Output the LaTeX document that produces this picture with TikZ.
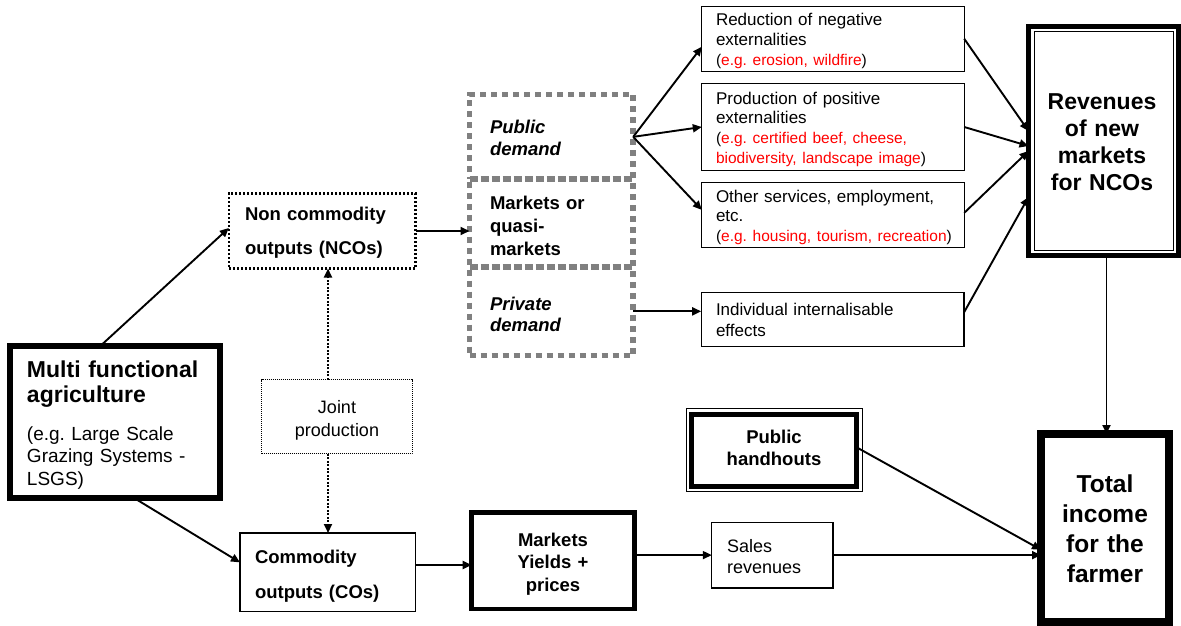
\documentclass[tikz,border=0pt]{standalone}
\usepackage{fontspec}
\setmainfont{Liberation Sans}
\usetikzlibrary{arrows.meta}
\definecolor{exred}{RGB}{255,0,0}
\definecolor{dashgray}{RGB}{128,128,128}
\newcommand{\fsz}[2]{\fontsize{#1}{#2}\selectfont}
\frenchspacing

\begin{document}
\begin{tikzpicture}[x=1pt,y=-1pt,
  frame/.style={draw, inner sep=0pt, outer sep=0pt},
  thinbox/.style={frame, line width=1.3pt},
  txt/.style={inner sep=0pt, outer sep=0pt, anchor=base west, align=left},
  ctxt/.style={inner sep=0pt, outer sep=0pt, anchor=base, align=center},
  conn/.style={line width=1.9pt, -{Triangle[length=9pt,width=8pt]}},
  dotconn/.style={line width=2.2pt, dash pattern=on 2pt off 1.5pt, -{Triangle[length=9pt,width=8pt]}},
  gdash/.style={draw=dashgray, line width=5.8pt, dash pattern=on 6pt off 5pt, inner sep=0pt, outer sep=0pt},
]
\useasboundingbox (0,0) rectangle (1181,626);

% ---------- left part ----------
\node[frame, line width=6pt, minimum width=209.8pt, minimum height=152pt] (mfa) at (114.6,422.3) {};
\node[txt, text width=190pt, font=\fsz{23}{25}\bfseries] (mfa-t) at (27,377) {Multi functional\\agriculture};
\node[txt, text width=190pt, font=\fsz{19}{22.5}] (mfa-s) at (27,440) {(e.g. Large Scale\\Grazing Systems -\\LSGS)};

\node[frame, line width=2.3pt, dash pattern=on 2pt off 2pt, minimum width=186.7pt, minimum height=75pt] (nco) at (322.15,231) {};
\node[txt, text width=170pt, font=\fsz{18.5}{34}\bfseries] (nco-t) at (245,220) {Non commodity\\outputs (NCOs)};

\node[frame, line width=0.9pt, dash pattern=on 1pt off 1pt, minimum width=150.4pt, minimum height=74pt] (jp) at (336.8,416.8) {};
\node[ctxt, text width=140pt, font=\fsz{18}{23}] (jp-t) at (337,413) {Joint\\production};

\node[thinbox, minimum width=175.8pt, minimum height=78.8pt] (cos) at (327.9,572.4) {};
\node[txt, text width=160pt, font=\fsz{18.5}{35}\bfseries] (cos-t) at (255,563) {Commodity\\outputs (COs)};

\node[frame, line width=4.6pt, minimum width=162.8pt, minimum height=96.7pt] (myp) at (553.1,560.65) {};
\node[ctxt, text width=150pt, font=\fsz{18.5}{22.5}\bfseries] (myp-t) at (553,546) {Markets\\Yields +\\prices};

% ---------- demand column ----------
\node[gdash, minimum width=163.7pt, minimum height=84.7pt] (pubd) at (551.35,136.85) {};
\node[gdash, minimum width=163.7pt, minimum height=88pt] (mktq) at (551.35,223.2) {};
\node[gdash, minimum width=163.7pt, minimum height=88.3pt] (privd) at (551.35,311.35) {};
\node[txt, text width=130pt, font=\fsz{18.5}{22}\bfseries\itshape] (pubd-t) at (490,133) {Public\\demand};
\node[txt, text width=130pt, font=\fsz{18.5}{23}\bfseries] (mktq-t) at (490,209) {Markets or\\quasi-\\markets};
\node[txt, text width=130pt, font=\fsz{18.5}{21}\bfseries\itshape] (privd-t) at (490,310) {Private\\demand};

% ---------- externality boxes ----------
\node[thinbox, minimum width=262.4pt, minimum height=65.1pt] (red1) at (833,38.75) {};
\node[txt, text width=245pt, font=\fsz{17}{20}] (red1-t) at (716,26) {Reduction of negative\\externalities\\{\fsz{15.5}{19}(\textcolor{exred}{e.g. erosion, wildfire})}};

\node[thinbox, minimum width=262.4pt, minimum height=87.4pt] (prod) at (833,127) {};
\node[txt, text width=245pt, font=\fsz{17}{19.7}] (prod-t) at (716,104) {Production of positive\\externalities\\{\fsz{15.5}{19}(\textcolor{exred}{e.g. certified beef, cheese,}}\\{\fsz{15.5}{19}\textcolor{exred}{biodiversity, landscape image})}};

\node[thinbox, minimum width=262.4pt, minimum height=65.2pt] (oth) at (833,214.9) {};
\node[txt, text width=245pt, font=\fsz{17}{19.7}] (oth-t) at (716,202) {Other services, employment,\\etc.\\{\fsz{15.5}{19}(\textcolor{exred}{e.g. housing, tourism, recreation})}};

\node[thinbox, minimum width=262.8pt, minimum height=54.5pt] (indiv) at (832.6,319.45) {};
\node[txt, text width=245pt, font=\fsz{17}{21}] (indiv-t) at (716,315) {Individual internalisable\\effects};

% ---------- revenues ----------
\node[frame, line width=5pt, minimum width=150pt, minimum height=229pt] (rev) at (1103.5,141) {};
\node[frame, line width=1pt, minimum width=139pt, minimum height=218pt] (revin) at (1103.5,141) {};
\node[ctxt, text width=140pt, font=\fsz{23}{27}\bfseries] (rev-t) at (1102,110) {Revenues\\of new\\markets\\for NCOs};

\node[frame, line width=1pt, minimum width=175.5pt, minimum height=83pt] (phout) at (774.25,450) {};
\node[frame, line width=5pt, minimum width=165pt, minimum height=71.5pt] (ph) at (774,450.25) {};
\node[ctxt, text width=150pt, font=\fsz{18.5}{22}\bfseries] (ph-t) at (774,443) {Public\\handhouts};

\node[thinbox, minimum width=121.2pt, minimum height=65.8pt] (sales) at (772.4,555.1) {};
\node[txt, text width=110pt, font=\fsz{18}{21}] (sales-t) at (727,552) {Sales\\revenues};

\node[frame, line width=8pt, minimum width=128pt, minimum height=187.5pt] (tot) at (1105,527.75) {};
\node[ctxt, text width=120pt, font=\fsz{24.5}{30}\bfseries] (tot-t) at (1105,492) {Total\\income\\for the\\farmer};

% ---------- connectors ----------
\draw[conn] ([xshift=-14.6pt]mfa.north) -- ([yshift=3pt]nco.west);
\draw[conn] ([xshift=20pt]mfa.south) -- ([yshift=10pt]cos.west);
\draw[conn] (nco.east) -- (nco.east -| mktq.west);
\draw[dotconn] ([xshift=-8.8pt]jp.north) -- ([xshift=-8.8pt]jp.north |- nco.south);
\draw[dotconn] ([xshift=-8.8pt]jp.south) -- ([xshift=-8.8pt]jp.south |- cos.north);
\draw[conn] ([yshift=7.4pt]cos.east) -- ([yshift=7.4pt]cos.east -| myp.west);
\draw[conn] (sales.west -| myp.east) -- (sales.west);
\draw[conn] (sales.east) -- (sales.east -| tot.west);
\draw[conn] ([yshift=3pt]ph.east) -- ([yshift=-22pt]tot.west);
\draw[conn] ([xshift=3pt]rev.south) -- ([xshift=3pt]rev.south |- tot.north);

\draw[conn] (pubd.east) -- ([yshift=-8pt]red1.west);
\draw[conn] (pubd.east) -- (prod.west);
\draw[conn] (pubd.east) -- ([yshift=5pt]oth.west);
\draw[conn] (privd.east) -- (privd.east -| indiv.west);

\draw[conn] (red1.east) -- ([yshift=10pt]rev.west);
\draw[conn] (prod.east) -- ([yshift=-5pt]rev.west);
\draw[conn] ([yshift=2pt]oth.east) -- ([yshift=-10pt]rev.west);
\draw[conn] ([yshift=7pt]indiv.east) -- ([yshift=-56pt]rev.west);
\end{tikzpicture}
\end{document}
